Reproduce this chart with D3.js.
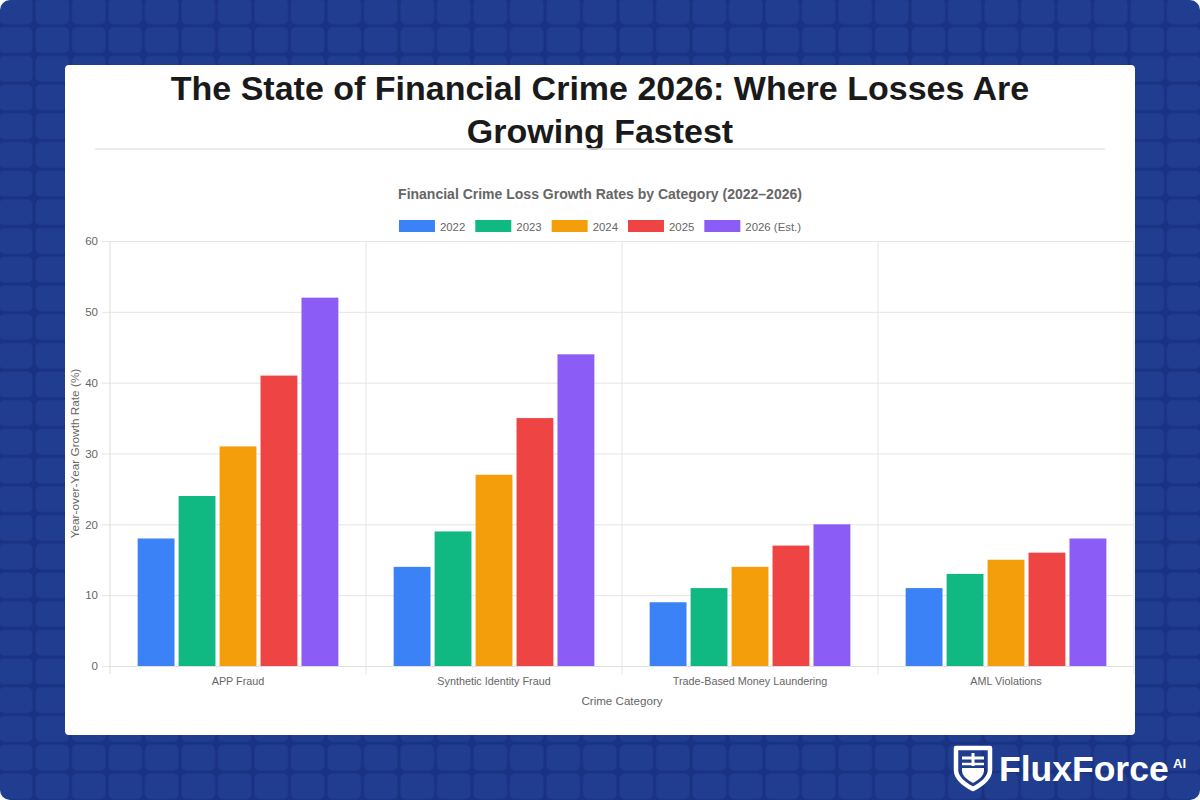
<!DOCTYPE html>
<html><head><meta charset="utf-8">
<script src="https://cdn.jsdelivr.net/npm/d3@7"></script>
<style>html,body{margin:0;padding:0;background:#fff;}svg{display:block;}</style>
</head><body>
<svg id="c" width="1200" height="800"></svg>
<script>
const categories = ["APP Fraud", "Synthetic Identity Fraud", "Trade-Based Money Laundering", "AML Violations"];
const seriesNames = ["2022", "2023", "2024", "2025", "2026 (Est.)"];
const values2022 = [18, 14, 9, 11];
const values2023 = [24, 19, 11, 13];
const values2024 = [31, 27, 14, 15];
const values2025 = [41, 35, 17, 16];
const values2026 = [52, 44, 20, 18];
const yTicks = [0, 10, 20, 30, 40, 50, 60];
const seriesColors = ["#3b82f6", "#10b981", "#f59e0b", "#ef4444", "#8b5cf6"];
const seriesValues = [values2022, values2023, values2024, values2025, values2026];

const svg = d3.select("#c");
const FONT = "'Liberation Sans', Arial, Helvetica, sans-serif";

// background
const defs = svg.append("defs");
const pat = defs.append("pattern").attr("id","grid").attr("patternUnits","userSpaceOnUse")
  .attr("x",-2.5).attr("y",-3).attr("width",36.5).attr("height",28.7);
pat.append("rect").attr("width",36.5).attr("height",28.7).attr("fill","#1a3282");
pat.append("rect").attr("x",1.5).attr("y",1.5).attr("width",33.5).attr("height",25.7).attr("rx",5).attr("fill","#213d90");
svg.append("rect").attr("width",1200).attr("height",800).attr("rx",10).attr("fill","url(#grid)");

// card
svg.append("rect").attr("x",65).attr("y",65).attr("width",1070).attr("height",670).attr("rx",4).attr("fill","#fff");

// main title
const t = svg.append("text").attr("text-anchor","middle").attr("font-family",FONT)
  .attr("font-weight","bold").attr("font-size",34).attr("fill","#1a1a1a");
t.append("tspan").attr("x",600).attr("y",100).text("The State of Financial Crime 2026: Where Losses Are");
t.append("tspan").attr("x",600).attr("y",143).text("Growing Fastest");
svg.append("line").attr("x1",95).attr("x2",1105).attr("y1",149).attr("y2",149).attr("stroke","#e6e6e6").attr("stroke-width",1.5);

// chart title
svg.append("text").attr("x",600).attr("y",199).attr("text-anchor","middle").attr("font-family",FONT)
  .attr("font-weight","bold").attr("font-size",14).attr("fill","#666")
  .text("Financial Crime Loss Growth Rates by Category (2022–2026)");

// legend
const lg = svg.append("g");
let lx = 0;
seriesNames.forEach((n,i)=>{
  const g = lg.append("g").attr("transform",`translate(${lx},0)`);
  g.append("rect").attr("x",0).attr("y",220).attr("width",36).attr("height",12).attr("fill",seriesColors[i]);
  const tx = g.append("text").attr("x",41).attr("y",230.5).attr("font-family",FONT).attr("font-size",11.4)
    .attr("fill","#666").text(n);
  lx += 41 + tx.node().getComputedTextLength() + 10;
});
lx -= 10;
lg.attr("transform",`translate(${600 - lx/2},0)`);

// scales
const x0 = d3.scaleBand().domain(categories).range([110,1134]).paddingInner(0).paddingOuter(0);
const x1 = d3.scaleBand().domain(seriesNames).range([0, x0.bandwidth()*0.8]).paddingInner(0.1).paddingOuter(0.05);
const y = d3.scaleLinear().domain([0,60]).range([666,241]);

// grid horizontal
const gy = svg.append("g").attr("transform","translate(110,0)")
  .call(d3.axisLeft(y).tickValues(yTicks).tickSize(8).tickPadding(4).tickFormat(d3.format("d")));
gy.select(".domain").remove();
gy.selectAll(".tick line").attr("stroke","#e5e5e5").attr("x1",-8).attr("x2",1024);
gy.selectAll(".tick text").attr("font-family",FONT).attr("font-size",11.5).attr("fill","#666");

// vertical grid lines at category boundaries
const bounds = categories.map(c=>x0(c)).concat([x0.range()[1]]);
svg.append("g").selectAll("line").data(bounds).join("line")
  .attr("x1",d=>d).attr("x2",d=>d).attr("y1",241).attr("y2",674)
  .attr("stroke",(d,i)=> i===0 ? "#dcdcdc" : "#e5e5e5").attr("stroke-width",1);

// x axis labels
const gx = svg.append("g").attr("transform","translate(0,666)")
  .call(d3.axisBottom(x0).tickSize(0).tickPadding(11));
gx.select(".domain").attr("stroke","#e0e0e0");
gx.selectAll(".tick text").attr("font-family",FONT).attr("font-size",10.8).attr("fill","#666");

// bars
categories.forEach((c,ci)=>{
  const gc = svg.append("g").attr("transform",`translate(${x0(c)+x0.bandwidth()*0.1},0)`);
  gc.selectAll("rect").data(seriesNames.map((s,si)=>({s, v: seriesValues[si][ci], col: seriesColors[si]})))
    .join("rect")
    .attr("x",d=>x1(d.s)).attr("width",x1.bandwidth())
    .attr("y",d=>y(d.v)).attr("height",d=>y(0)-y(d.v)).attr("fill",d=>d.col);
});

// axis titles
svg.append("text").attr("x",622).attr("y",705).attr("text-anchor","middle").attr("font-family",FONT)
  .attr("font-size",11.6).attr("fill","#666").text("Crime Category");
svg.append("text").attr("transform","translate(79,453.5) rotate(-90)").attr("text-anchor","middle").attr("font-family",FONT)
  .attr("font-size",11.8).attr("fill","#666").text("Year-over-Year Growth Rate (%)");

// logo
const logo = svg.append("g");
logo.append("path").attr("d","M956,748 L990,748 L990,770 Q990,780 973,789 Q956,780 956,770 Z")
  .attr("fill","none").attr("stroke","#fff").attr("stroke-width",4.5).attr("stroke-linejoin","round");
logo.append("path").attr("d","M962,768 L984,768 L984,771 Q984,777 973,783 Q962,777 962,771 Z").attr("fill","#fff");
logo.append("line").attr("x1",962).attr("x2",984).attr("y1",758).attr("y2",758).attr("stroke","#fff").attr("stroke-width",3);
logo.append("line").attr("x1",973).attr("x2",973).attr("y1",753).attr("y2",766).attr("stroke","#fff").attr("stroke-width",3);
logo.append("line").attr("x1",962).attr("x2",984).attr("y1",764).attr("y2",764).attr("stroke","#fff").attr("stroke-width",2.5);
logo.append("text").attr("x",999).attr("y",781).attr("font-family",FONT).attr("font-weight","bold")
  .attr("font-size",35.5).attr("fill","#fff").text("FluxForce");
logo.append("text").attr("x",1173).attr("y",768).attr("font-family",FONT).attr("font-weight","bold")
  .attr("font-size",13).attr("fill","#fff").text("AI");
</script>
</body></html>
